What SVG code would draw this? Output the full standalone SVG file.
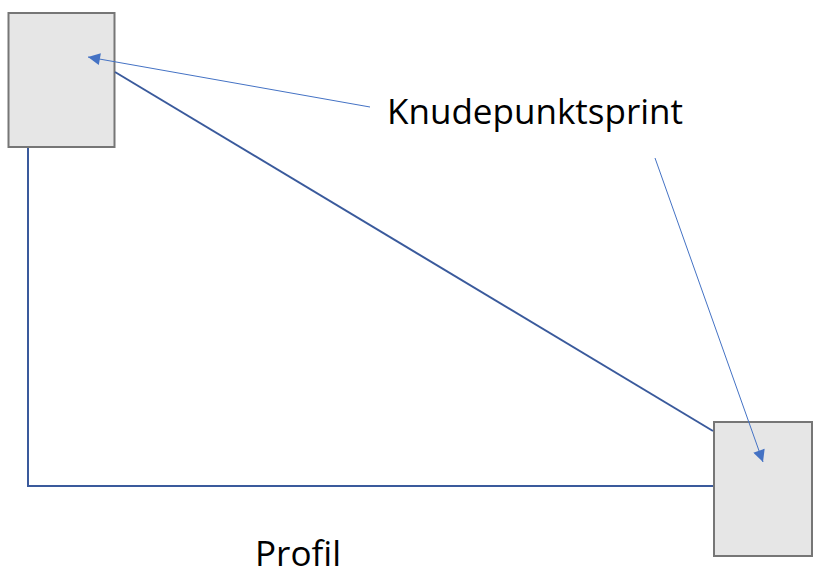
<svg xmlns="http://www.w3.org/2000/svg" width="815" height="573" viewBox="0 0 815 573">
<style>
.node{fill:#e6e6e6;stroke:#767676;stroke-width:2}
.wire{fill:none;stroke:#3a5a9c;stroke-width:2}
.ptr{fill:none;stroke:#4472c4;stroke-width:1}
.lbl{font-family:"Open Sans","Noto Sans",sans-serif;font-size:34px;fill:#000}
</style>
<defs>
<marker id="ah" viewBox="0 0 10 10" refX="10" refY="5" markerWidth="14" markerHeight="12" markerUnits="userSpaceOnUse" orient="auto">
<path d="M0,0 L10,5 L0,10 z" fill="#4472c4"/>
</marker>
</defs>
<g id="node-left"><rect class="node" x="8.5" y="13" width="106" height="134"/></g>
<g id="node-right"><rect class="node" x="714" y="422" width="98" height="134"/></g>
<g id="connectors">
<polyline class="wire" points="28,148 28,486 713,486"/>
<line class="wire" x1="115" y1="72" x2="713" y2="431"/>
<line class="ptr" x1="370" y1="107" x2="88" y2="57" marker-end="url(#ah)"/>
<line class="ptr" x1="655" y1="158" x2="763" y2="462" marker-end="url(#ah)"/>
</g>
<g id="label-knude"><text class="lbl" x="387" y="124" textLength="296" lengthAdjust="spacingAndGlyphs">Knudepunktsprint</text></g>
<g id="label-profil"><text class="lbl" x="255" y="566" textLength="86" lengthAdjust="spacingAndGlyphs">Profil</text></g>
</svg>
